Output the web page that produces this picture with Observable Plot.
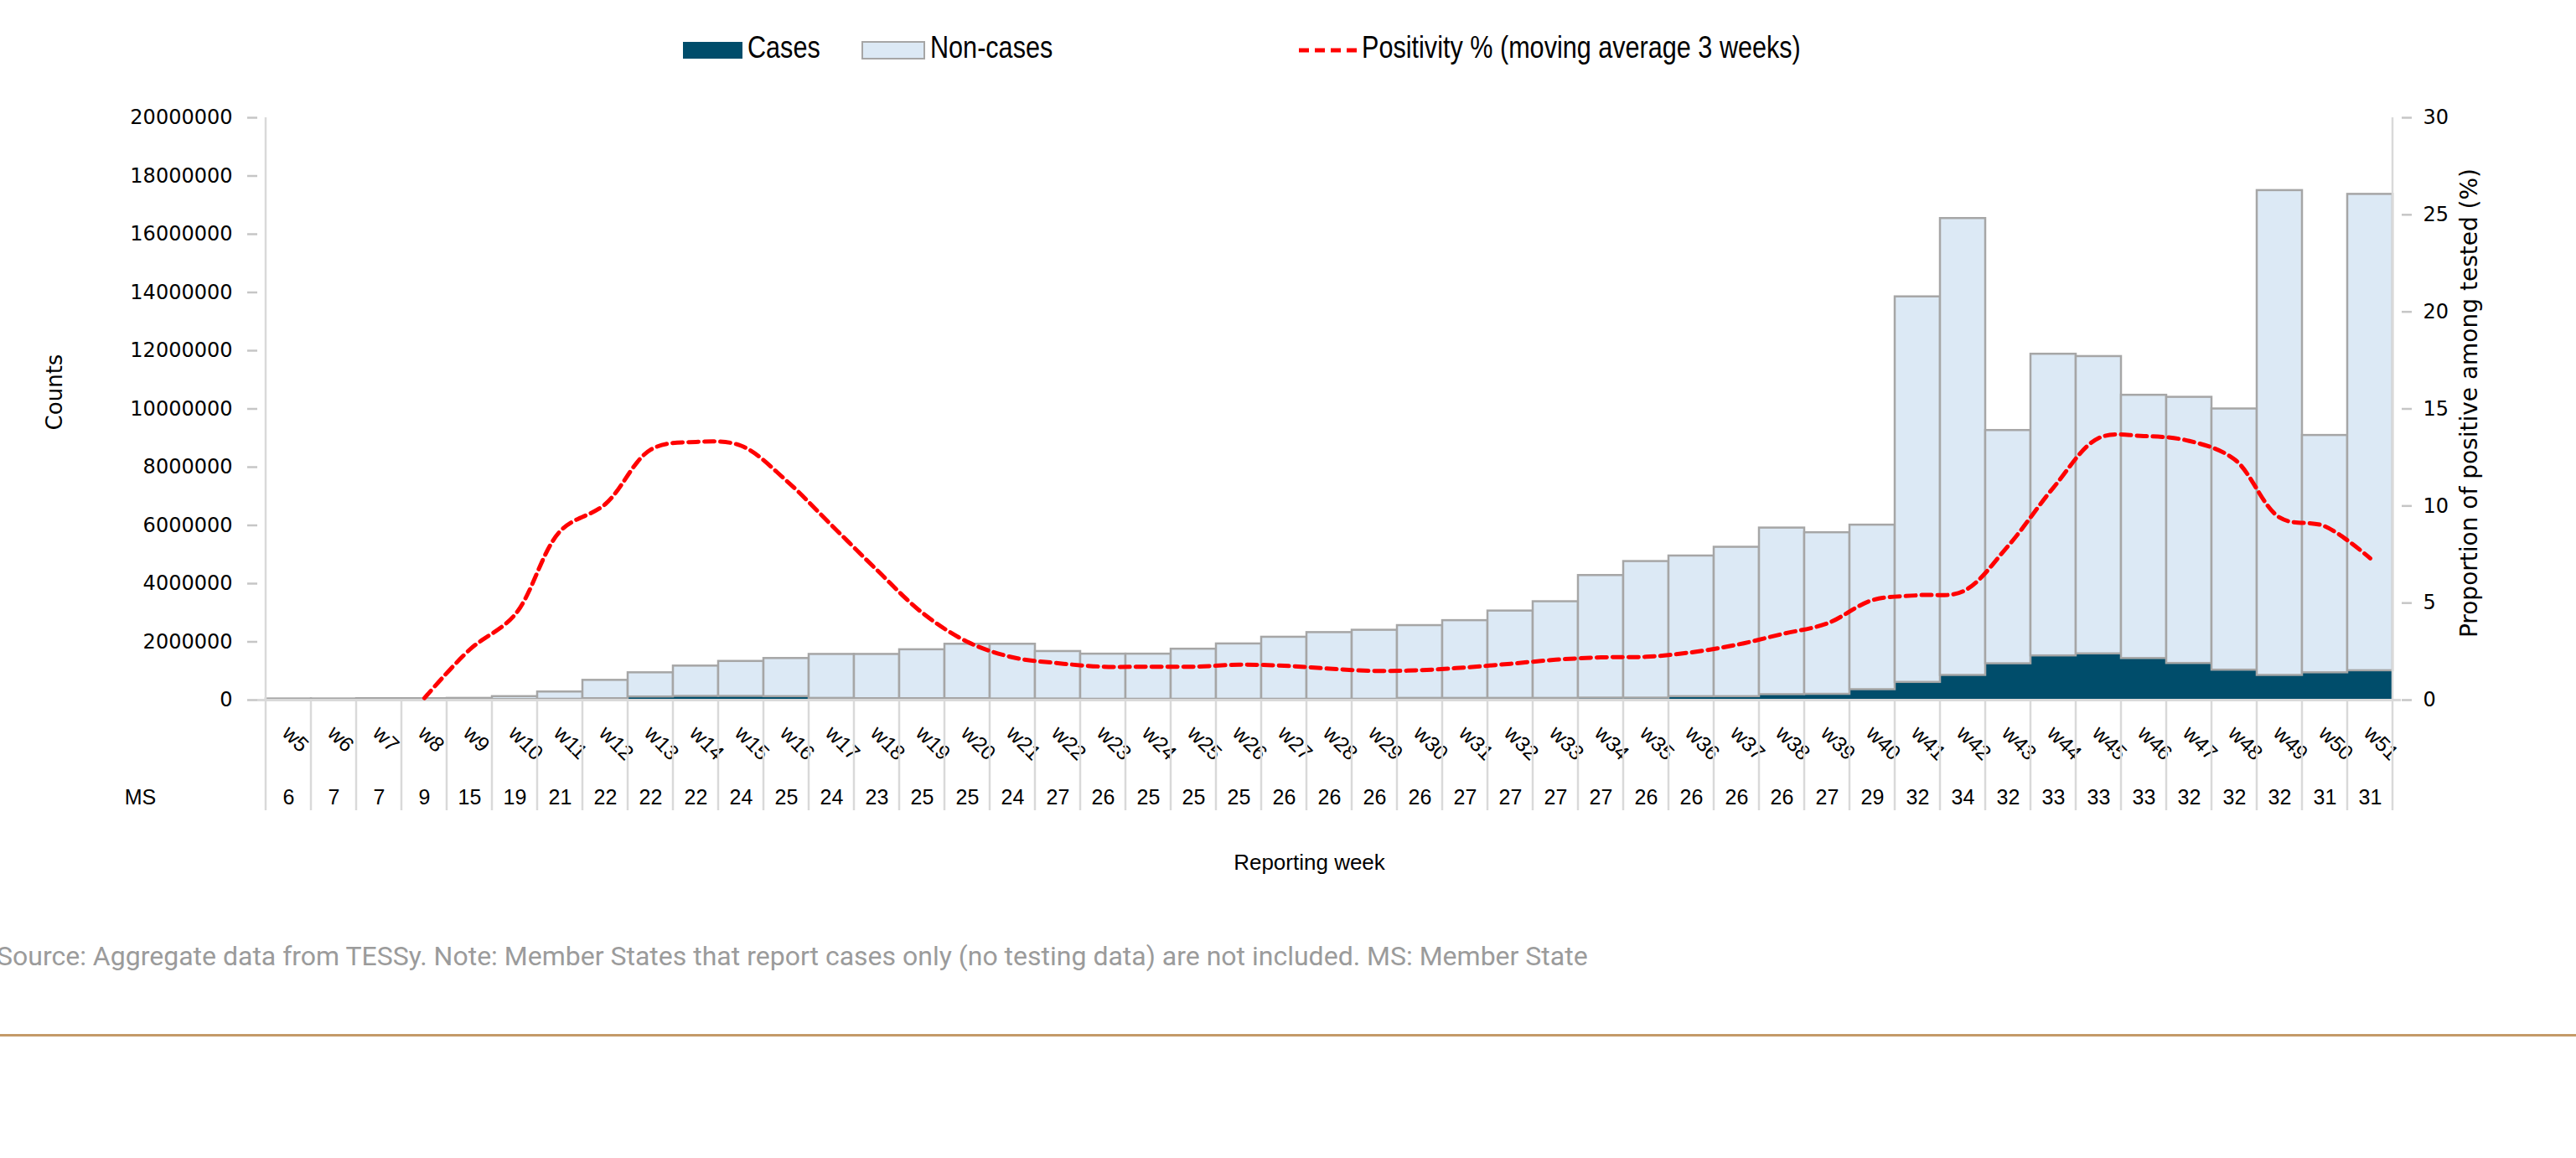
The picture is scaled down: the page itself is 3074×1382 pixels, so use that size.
<!DOCTYPE html>
<html>
<head>
<meta charset="utf-8">
<script src="https://cdn.jsdelivr.net/npm/d3@7"></script>
<script src="https://cdn.jsdelivr.net/npm/@observablehq/plot@0.6"></script>
<style>
  html, body { margin: 0; padding: 0; background: #fff; }
  body { width: 3074px; height: 1382px; position: relative; overflow: hidden; }
  #chart { position: absolute; left: 0; top: 0; }
  .leg { position: absolute; font-family: "Liberation Sans", Arial, sans-serif; font-size: 36px; line-height: 40px; color: #000; white-space: nowrap; transform: scaleX(0.85); transform-origin: 0 50%; }
  .sw { position: absolute; box-sizing: border-box; }
  #caption { position: absolute; left: -4px; top: 1121px; font-family: Roboto, sans-serif; font-size: 32px; line-height: 40px; color: #9b9b9b; white-space: nowrap; }
  #hr { position: absolute; left: 0; top: 1234px; width: 3074px; height: 3px; background: #c49a68; }
  g[aria-label="y-axis tick"] { stroke: #c6c6c6; stroke-width: 2.5px; }
</style>
</head>
<body>
<div id="chart"></div>
<div class="sw" style="left:815px;top:50px;width:71px;height:20px;background:#004d6b"></div>
<div class="leg" style="left:892px;top:37px">Cases</div>
<div class="sw" style="left:1028px;top:49px;width:76px;height:22px;background:#dce9f5;border:2.5px solid #a6a6a6"></div>
<div class="leg" style="left:1110px;top:37px">Non-cases</div>
<svg style="position:absolute;left:1548px;top:50px" width="76" height="20"><line x1="2" x2="74" y1="10" y2="10" stroke="#ff0000" stroke-width="5" stroke-dasharray="12,7"/></svg>
<div class="leg" style="left:1625px;top:37px">Positivity % (moving average 3 weeks)</div>
<div id="caption">Source: Aggregate data from TESSy. Note: Member States that report cases only (no testing data) are not included. MS: Member State</div>
<div id="hr"></div>
<script>
const weeks = ["w5","w6","w7","w8","w9","w10","w11","w12","w13","w14","w15","w16","w17","w18","w19","w20","w21","w22","w23","w24","w25","w26","w27","w28","w29","w30","w31","w32","w33","w34","w35","w36","w37","w38","w39","w40","w41","w42","w43","w44","w45","w46","w47","w48","w49","w50","w51"];
const cases = [5000,5000,5000,10000,20000,20000,30000,50000,110000,130000,130000,120000,60000,50000,50000,50000,40000,40000,30000,30000,30000,30000,30000,30000,30000,60000,60000,60000,60000,70000,70000,120000,120000,190000,200000,360000,610000,850000,1250000,1520000,1590000,1430000,1260000,1030000,850000,940000,1010000];
const nonCases = [35000,35000,45000,40000,40000,100000,250000,630000,830000,1040000,1200000,1310000,1510000,1520000,1680000,1870000,1880000,1630000,1550000,1550000,1720000,1900000,2130000,2290000,2370000,2500000,2670000,3000000,3320000,4210000,4690000,4830000,5130000,5720000,5550000,5650000,13240000,15690000,8010000,10360000,10210000,9040000,9140000,8970000,16650000,8150000,16360000];
const positivity = [null,null,null,0.1,2.6,4.4,8.7,10.1,12.9,13.3,13.1,11.3,9.0,6.7,4.5,3.0,2.2,1.9,1.72,1.72,1.72,1.82,1.77,1.62,1.5,1.54,1.68,1.87,2.08,2.2,2.23,2.46,2.85,3.4,3.95,5.15,5.4,5.6,7.95,10.95,13.5,13.6,13.35,12.4,9.4,8.95,7.3];
const msCounts = [6,7,7,9,15,19,21,22,22,22,24,25,24,23,25,25,24,27,26,25,25,25,26,26,26,26,27,27,27,27,26,26,26,26,27,29,32,34,32,33,33,33,32,32,32,31,31];
const countTicks = [0,2000000,4000000,6000000,8000000,10000000,12000000,14000000,16000000,18000000,20000000];
const pctTicks = [0,5,10,15,20,25,30];

const sans = "Liberation Sans, Arial, sans-serif";
const k = 20000000 / 30;
const data = weeks.map((w, i) => ({week: w, cases: cases[i], non: nonCases[i], pos: positivity[i], ms: msCounts[i]}));

const chart = Plot.plot({
  width: 3074,
  height: 1100,
  marginLeft: 307,
  marginRight: 209,
  marginTop: 140,
  marginBottom: 265,
  style: {fontFamily: "DejaVu Sans, sans-serif", fontSize: "24px", background: "transparent", color: "#000", overflow: "visible"},
  x: {type: "band", domain: weeks, padding: 0, axis: null},
  y: {domain: [0, 20000000], axis: null},
  marks: [
    Plot.barY(data, {x: "week", y1: 0, y2: "cases", fill: "#004d6b", inset: 0}),
    Plot.barY(data, {x: "week", y1: "cases", y2: d => d.cases + d.non, fill: "#dce9f5", stroke: "#a6a6a6", strokeWidth: 2.5, inset: 0}),
    Plot.ruleY([0], {stroke: "#d9d9d9", strokeWidth: 3}),
    Plot.axisY(countTicks, {anchor: "left", tickFormat: d3.format("d"), tickSize: 12, tickPadding: 18, label: null}),
    Plot.axisY(pctTicks.map(p => p * k), {anchor: "right", tickFormat: d => String(Math.round(d / k)), tickSize: 12, tickPadding: 14, label: null}),
    Plot.line(data, {x: "week", y: d => d.pos == null ? NaN : d.pos * k, stroke: "#ff0000", strokeWidth: 5, strokeDasharray: "12,7", curve: "catmull-rom"}),
    Plot.text(data, {x: "week", text: "week", frameAnchor: "bottom", rotate: 45, textAnchor: "start", dy: 41, dx: -9, fontFamily: sans, fontSize: 25}),
    Plot.text(data, {x: "week", text: "ms", frameAnchor: "bottom", textAnchor: "middle", dy: 124, fontFamily: sans, fontSize: 25}),
    Plot.text(["MS"], {frameAnchor: "bottom-left", textAnchor: "middle", dx: -140, dy: 124, fontFamily: sans, fontSize: 25}),
    Plot.text(["Reporting week"], {frameAnchor: "bottom", textAnchor: "middle", dx: -24, dy: 202, fontFamily: sans, fontSize: 26}),
    Plot.text(["Counts"], {frameAnchor: "left", textAnchor: "middle", rotate: -90, dx: -242, dy: -20, fontSize: 26}),
    Plot.text(["Proportion of positive among tested (%)"], {frameAnchor: "right", textAnchor: "middle", rotate: -90, dx: 82, dy: -7, fontSize: 28})
  ]
});

// table separators and vertical axis lines, positioned by the x band scale
const xs = chart.scale("x");
const ys = chart.scale("y");
const bw = xs.bandwidth;
const y0 = ys.apply(0);
const yTop = ys.apply(20000000);
const bounds = weeks.map(w => xs.apply(w)).concat([xs.apply(weeks[weeks.length - 1]) + bw]);
const svg = d3.select(chart);
bounds.forEach((bx, i) => {
  const edge = i === 0 || i === bounds.length - 1;
  svg.append("line")
    .attr("x1", bx).attr("x2", bx)
    .attr("y1", edge ? yTop : y0).attr("y2", y0 + 132)
    .attr("stroke", "#d9d9d9").attr("stroke-width", 2.5);
});

document.getElementById("chart").appendChild(chart);
</script>
</body>
</html>
